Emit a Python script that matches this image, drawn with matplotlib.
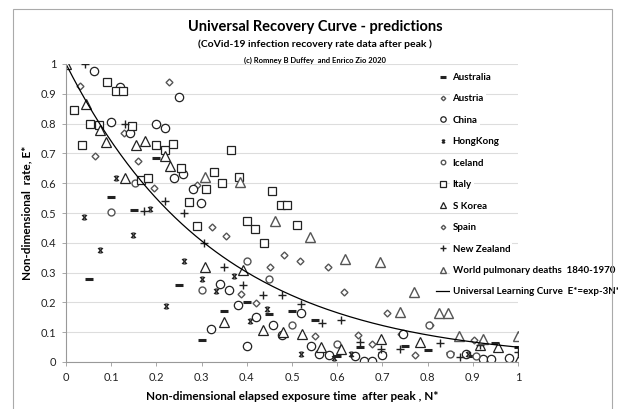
import numpy as np
import matplotlib
matplotlib.use("Agg")
import matplotlib.pyplot as plt
from matplotlib.path import Path
from matplotlib.patches import Rectangle

plt.rcParams["font.family"] = ["Lato", "DejaVu Sans"]

# ---- data ----
aus_x = [0.05, 0.10, 0.15, 0.20, 0.25, 0.30, 0.35, 0.40, 0.45, 0.50, 0.55, 0.60, 0.65, 0.70, 0.75, 0.80, 0.85, 0.90, 0.95, 1.00]
aus_y = [0.28, 0.555, 0.51, 0.685, 0.26, 0.075, 0.17, 0.20, 0.16, 0.17, 0.14, 0.02, 0.05, 0.03, 0.055, 0.04, 0.03, 0.02, 0.065, 0.05]

austria_x = [0.032, 0.128, 0.194, 0.29, 0.355, 0.42, 0.483, 0.551, 0.615, 0.677, 0.741, 0.805, 0.902]
austria_y = [0.927, 0.768, 0.583, 0.594, 0.424, 0.198, 0.359, 0.087, 0.235, 0.06, 0.095, 0.123, 0.075]

china_x = [0.061, 0.10, 0.12, 0.141, 0.20, 0.22, 0.239, 0.25, 0.259, 0.28, 0.299, 0.32, 0.341, 0.36, 0.38, 0.40,
           0.421, 0.459, 0.478, 0.52, 0.542, 0.56, 0.582, 0.64, 0.659, 0.678, 0.70, 0.746, 0.884, 0.922, 0.94, 0.98]
china_y = [0.978, 0.806, 0.923, 0.768, 0.80, 0.785, 0.617, 0.89, 0.631, 0.58, 0.535, 0.112, 0.263, 0.243, 0.19, 0.055,
           0.151, 0.123, 0.09, 0.166, 0.053, 0.026, 0.022, 0.019, 0.002, 0.002, 0.022, 0.095, 0.028, 0.011, 0.011, 0.015]

hk_x = [0.039, 0.075, 0.11, 0.149, 0.185, 0.222, 0.26, 0.30, 0.332, 0.371, 0.408, 0.444, 0.52, 0.592, 0.631, 0.89]
hk_y = [0.488, 0.376, 0.617, 0.426, 0.513, 0.188, 0.339, 0.277, 0.239, 0.288, 0.138, 0.177, 0.026, 0.013, 0.026, 0.028]

iceland_x = [0.10, 0.152, 0.30, 0.40, 0.45, 0.50, 0.60, 0.803, 0.85, 0.906]
iceland_y = [0.503, 0.60, 0.24, 0.34, 0.277, 0.123, 0.06, 0.123, 0.028, 0.02]

italy_x = [0.018, 0.036, 0.054, 0.073, 0.09, 0.11, 0.127, 0.146, 0.165, 0.182, 0.20, 0.22, 0.237, 0.254,
           0.273, 0.29, 0.31, 0.328, 0.346, 0.365, 0.382, 0.40, 0.419, 0.437, 0.456, 0.475, 0.49, 0.51]
italy_y = [0.846, 0.727, 0.80, 0.796, 0.938, 0.908, 0.911, 0.793, 0.611, 0.617, 0.727, 0.71, 0.731, 0.652,
           0.536, 0.457, 0.58, 0.636, 0.60, 0.712, 0.622, 0.473, 0.445, 0.398, 0.574, 0.527, 0.527, 0.46]

korea_x = [0.0, 0.044, 0.075, 0.088, 0.131, 0.155, 0.175, 0.218, 0.23, 0.307, 0.35, 0.392, 0.436, 0.479,
           0.522, 0.564, 0.608, 0.696, 0.783, 0.915, 0.956, 1.0]
korea_y = [1.0, 0.867, 0.78, 0.738, 0.617, 0.727, 0.74, 0.69, 0.659, 0.32, 0.135, 0.31, 0.107, 0.10,
           0.095, 0.05, 0.045, 0.078, 0.067, 0.056, 0.05, 0.003]

spain_x = [0.064, 0.16, 0.227, 0.323, 0.387, 0.452, 0.518, 0.58, 0.646, 0.71, 0.773]
spain_y = [0.69, 0.675, 0.94, 0.452, 0.228, 0.32, 0.34, 0.32, 0.09, 0.165, 0.022]

nz_x = [0.043, 0.131, 0.173, 0.218, 0.261, 0.305, 0.35, 0.392, 0.435, 0.477, 0.521, 0.566, 0.608, 0.651,
        0.697, 0.738, 0.827, 0.871, 0.915, 1.0]
nz_y = [1.0, 0.80, 0.508, 0.539, 0.499, 0.40, 0.32, 0.26, 0.226, 0.226, 0.193, 0.132, 0.14, 0.067,
        0.045, 0.043, 0.065, 0.017, 0.056, 0.034]

world_x = [0.307, 0.384, 0.462, 0.54, 0.617, 0.694, 0.739, 0.77, 0.825, 0.846, 0.869, 0.922, 1.0]
world_y = [0.62, 0.603, 0.474, 0.418, 0.347, 0.336, 0.168, 0.235, 0.163, 0.163, 0.086, 0.077, 0.087]

tick_labels = ["0", "0.1", "0.2", "0.3", "0.4", "0.5", "0.6", "0.7", "0.8", "0.9", "1"]

curve_n = np.linspace(0, 1, 200)

# Excel-style star marker
star = Path([(-1, -1), (1, 1), (-1, 1), (1, -1), (-0.55, 1), (0.55, 1), (-0.55, -1), (0.55, -1)],
            [Path.MOVETO, Path.LINETO, Path.MOVETO, Path.LINETO,
             Path.MOVETO, Path.LINETO, Path.MOVETO, Path.LINETO])

fig = plt.figure(figsize=(6.18, 4.09), dpi=100)
ax = fig.add_axes([66 / 618, 1 - 362 / 409, (518 - 66) / 618, (362 - 64) / 409])

# outer chart frame
fig.patches.append(Rectangle((13 / 618, -0.05), (612 - 13) / 618, 1.05 - 9 / 409,
                             transform=fig.transFigure, fill=False, edgecolor="#aaaaaa", lw=0.8))

dark = "#222222"
grey = "#555555"
kw = dict(linestyle="none", mfc="white")
ax.plot(aus_x, aus_y, marker="_", color=dark, ms=6, mew=2.2, linestyle="none", label="Australia")
ax.plot(austria_x, austria_y, marker="D", mec=grey, ms=3.5, mew=1.0, label="Austria", **kw)
ax.plot(china_x, china_y, marker="o", mec=dark, ms=6, mew=0.9, label="China", **kw)
ax.plot(hk_x, hk_y, marker=star, color=dark, ms=3.5, mew=0.9, linestyle="none", label="HongKong")
ax.plot(iceland_x, iceland_y, marker="o", mec=grey, ms=5, mew=1.0, label="Iceland", **kw)
ax.plot(italy_x, italy_y, marker="s", mec=dark, ms=6, mew=0.9, label="Italy", **kw)
ax.plot(korea_x, korea_y, marker="^", mec=dark, ms=6.5, mew=0.9, label="S Korea", **kw)
ax.plot(spain_x, spain_y, marker="D", mec=grey, ms=3.5, mew=1.0, label="Spain", **kw)
ax.plot(nz_x, nz_y, marker="+", color=dark, ms=6, mew=1.0, linestyle="none", label="New Zealand")
ax.plot(world_x, world_y, marker="^", mec=grey, ms=6.5, mew=1.0,
        label="World pulmonary deaths  1840-1970", **kw)
ax.plot(curve_n, np.exp(-3 * curve_n), color="black", lw=0.9,
        label="Universal Learning Curve  E*=exp-3N*")

ax.set_xlim(0, 1)
ax.set_ylim(0, 1)
ax.set_xticks(np.arange(0, 1.01, 0.1))
ax.set_yticks(np.arange(0, 1.01, 0.1))
ax.set_xticklabels(tick_labels)
ax.set_yticklabels(tick_labels)
ax.tick_params(labelsize=8, colors="#222222", length=3, width=0.6, pad=4)
ax.tick_params(axis="both", color="#999999")
ax.grid(axis="y", color="#dddddd", lw=0.8)
ax.set_axisbelow(True)
for s in ["top", "right"]:
    ax.spines[s].set_visible(False)
for s in ["left", "bottom"]:
    ax.spines[s].set_color("#999999")
    ax.spines[s].set_linewidth(0.8)

ax.set_xlabel("Non-dimensional elapsed exposure time  after peak , N*", fontsize=8.5,
              fontweight="bold", labelpad=6)
ax.set_ylabel("Non-dimensional  rate, E*", fontsize=8.5, fontweight="bold", labelpad=6)

fig.text(315 / 618, 1 - 27 / 409, "Universal Recovery Curve - predictions", ha="center", va="center",
         fontsize=10.5, fontweight="bold")
fig.text(315 / 618, 1 - 44 / 409, "(CoVid-19 infection recovery rate data after peak )", ha="center",
         va="center", fontsize=7.5, fontweight="bold")
fig.text(315 / 618, 1 - 60 / 409, "(c) Romney B Duffey  and Enrico Zio 2020", ha="center", va="center",
         fontsize=5.5, fontweight="bold")

leg = ax.legend(loc="upper left", bbox_to_anchor=(436 / 618, 1 - 73 / 409),
                bbox_transform=fig.transFigure, frameon=False, fontsize=7,
                handlelength=1.4, handletextpad=0.3, labelspacing=1.28,
                borderpad=0, borderaxespad=0, numpoints=1, markerscale=0.65)
for t in leg.get_texts():
    t.set_fontweight("bold")
    t.set_bbox(dict(facecolor="white", edgecolor="none", pad=1.5))

fig.savefig("out.png", dpi=100)
